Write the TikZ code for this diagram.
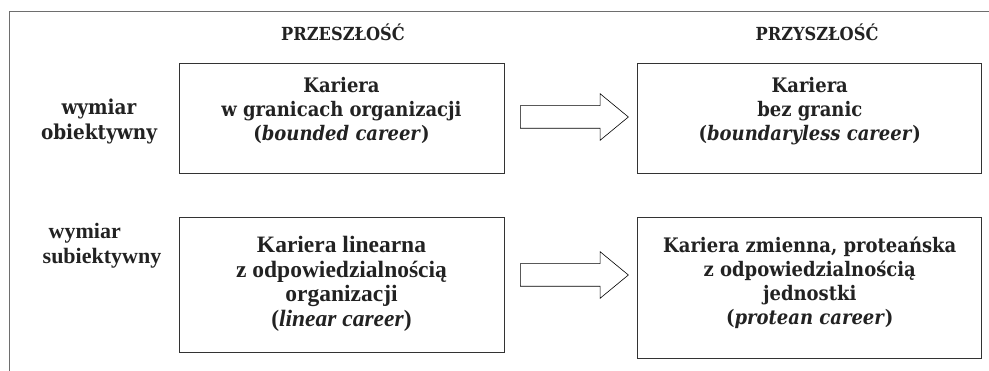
\documentclass[tikz,border=0pt]{standalone}
\usepackage{fontspec}
\setmainfont{DejaVu Serif Condensed}
\newfontfamily\timesfont{Liberation Serif}
\usepackage{tikz}
\usetikzlibrary{positioning, calc, shapes.arrows}
\definecolor{linegray}{HTML}{333333}
\definecolor{framegray}{HTML}{6E6E6E}
\definecolor{textgray}{HTML}{222222}
\tikzset{%
  x=1pt, y=-1pt,
  node distance=44pt, % gap between the two rows
  box/.style={draw=linegray, thick, align=center, inner sep=4pt, text=textgray,
    minimum height=110pt, font=\fontsize{20}{24}\selectfont\bfseries},
  wide/.style={minimum width=344pt},
  narrow/.style={minimum width=325pt},
  head/.style={text=textgray, font=\fontsize{18}{20}\selectfont\bfseries},
  side/.style={align=center, text=textgray, font=\fontsize{20.5}{25}\selectfont\bfseries},
  blockarrow/.style={%
    shape=single arrow, draw=black, semithick, fill=white,
    minimum height=108pt, inner xsep=0pt, inner ysep=11pt,
    single arrow head extend=12pt, single arrow tip angle=79
  }
}
\begin{document}
\begin{tikzpicture}
    \useasboundingbox (0,0) rectangle (989,371);
    \draw[framegray, semithick] (9,371) |- (989,11);

    \node[box, narrow, text depth=18pt] (past1) at (341.5,118)
      {Kariera\\w granicach organizacji\\(\textit{bounded career})};
    \node[box, wide, text depth=18pt, right=133pt of past1] (fut1)
      {Kariera\\bez granic\\(\textit{boundaryless career})};
    \node[box, narrow, minimum height=135pt, text depth=8pt, below=of past1,
      font=\fontsize{23.5}{24.6}\selectfont\bfseries\timesfont] (past2)
      {Kariera linearna\\z odpowiedzialnością\\organizacji\\(\textit{linear career})};
    \node[box, wide, minimum height=141pt, text depth=16pt, below=of fut1] (fut2)
      {Kariera zmienna, proteańska\\z odpowiedzialnością\\jednostki\\(\textit{protean career})};

    \node[head] (przeszlosc) at (343,32) {PRZESZŁOŚĆ};
    \node[head] (przyszlosc) at (817,32) {PRZYSZŁOŚĆ};

    \node[side] (obiekt) at (99,121) {wymiar\\obiektywny};
    \node[side, align=left, font=\fontsize{22}{25}\selectfont\bfseries\timesfont]
      (subiekt) at (102,246) {\hspace*{6pt}wymiar\\subiektywny};

    \node[blockarrow] (arr1) at (567.5,117) {};
    \node[blockarrow] (arr2) at (567.5,275) {};
  \end{tikzpicture}
\end{document}
